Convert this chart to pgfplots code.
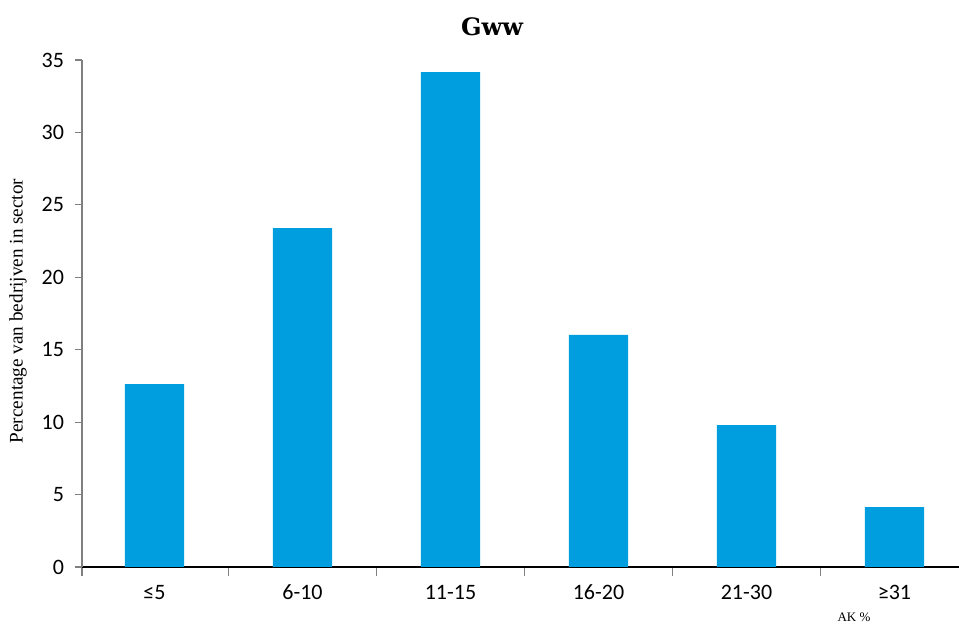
\documentclass[border=0pt]{standalone}
\usepackage{fontspec}
\setmainfont{Carlito}
\newfontfamily\serifa{Liberation Serif}
\newfontfamily\titlefont{DejaVu Serif}
\usepackage{pgfplots}
\pgfplotsset{compat=1.18}
\definecolor{barblue}{RGB}{0,157,223}
\definecolor{axgrey}{RGB}{128,128,128}
\begin{document}
\begin{tikzpicture}
\useasboundingbox (0,0) rectangle (479.5pt,313pt);
\begin{axis}[
    at={(41pt,29.5pt)}, anchor=south west,
    scale only axis,
    width=438.5pt, height=253.5pt,
    xmin=-0.49, xmax=5.436,
    ymin=0, ymax=35,
    axis x line=bottom, axis y line=left,
    x axis line style={-, black, line width=0.6pt},
    y axis line style={-, axgrey, line width=0.6pt},
    xtick={0,1,2,3,4,5},
    xticklabels={≤5,6-10,11-15,16-20,21-30,≥31},
    minor xtick={-0.49,0.5,1.5,2.5,3.5,4.5},
    major x tick style={draw=none},
    minor x tick style={axgrey, line width=0.6pt},
    minor tick length=4.5pt,
    ytick={0,5,...,35},
    y tick style={axgrey, line width=0.6pt},
    major tick length=3.5pt,
    tick align=outside,
    tick label style={font=\fontsize{11}{13}\selectfont},
    /pgf/number format/assume math mode=true,
    xticklabel style={yshift=-2pt},
    yticklabel style={xshift=-2pt},
    clip=false,
]
\addplot[ybar, bar width=0.4, fill=barblue, draw=none] coordinates {
    (0,12.63) (1,23.40) (2,34.17) (3,16.02) (4,9.80) (5,4.14)
};
\end{axis}
\node at (246pt,299.5pt) {\titlefont\bfseries\fontsize{12}{14}\selectfont Gww};
\node[rotate=90] at (9pt,157.5pt) {\serifa\fontsize{9.6}{11}\selectfont Percentage van bedrijven in sector};
\node at (427pt,4.5pt) {\serifa\fontsize{6.5}{7}\selectfont AK \%};
\end{tikzpicture}
\end{document}
